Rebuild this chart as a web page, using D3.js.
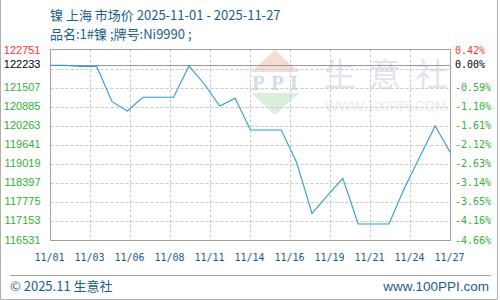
<!DOCTYPE html>
<html><head><meta charset="utf-8">
<script src="https://cdn.jsdelivr.net/npm/d3@7"></script>
<style>
html,body{margin:0;padding:0;background:#fff;}
svg{display:block;}
</style></head>
<body>
<svg id="chart" width="500" height="300"></svg>
<script>
// ---- data ----
const dates = ["11/01","11/02","11/03","11/04","11/05","11/06","11/07","11/08","11/09","11/10",
  "11/11","11/12","11/13","11/14","11/15","11/16","11/17","11/18","11/19","11/20",
  "11/21","11/22","11/23","11/24","11/25","11/26","11/27"];
const prices = [122233,122233,122200,122200,121051,120748,121194,121194,121194,122210,
  121627,120911,121162,120129,120129,120129,119071,117417,117990,118557,
  117068,117068,117068,118231,119250,120260,119390];
const xTickLabels = ["11/01","11/03","11/06","11/08","11/11","11/14","11/16","11/19","11/21","11/24","11/27"];
const yTicks = [116531,117153,117775,118397,119019,119641,120263,120885,121507,122129,122751];
const yTickLabelsLeft = ["116531","117153","117775","118397","119019","119641","120263","120885","121507","","122751"];
const yTickLabelsRight = ["-4.66%","-4.16%","-3.65%","-3.14%","-2.63%","-2.12%","-1.61%","-1.10%","-0.59%","","0.42%"];
const baseValue = 122233;
const baseLabelLeft = "122233";
const baseLabelRight = "0.00%";
const titleLine1 = "镍 上海 市场价 2025-11-01 - 2025-11-27";
const titleLine2 = "品名:1#镍 ;牌号:Ni9990 ;";
const footerLeft = "© 2025.11 生意社";
const footerRight = "www.100PPI.com";

// ---- layout ----
const L = 50.5, R = 450.5, T = 49.5, B = 240.5;
const svg = d3.select("#chart");
const blue = "#1b5d8e", green = "#33b033", red = "#ff3333";

// outer frame (left, right, bottom)
svg.append("path").attr("d","M0.5,0 V299.5 H497.5 V0").attr("fill","none").attr("stroke","#b0b0b0");

// titles
svg.append("text").attr("x",50).attr("y",19.5).attr("fill",blue)
  .attr("font-family","'Noto Sans CJK SC', sans-serif").attr("font-size",13).text(titleLine1);
svg.append("text").attr("x",50).attr("y",38.5).attr("fill",blue)
  .attr("font-family","'Noto Sans CJK SC', sans-serif").attr("font-size",13).text(titleLine2);

// scales
const x = d3.scaleLinear().domain([0, dates.length-1]).range([L, R]);
const y = d3.scaleLinear().domain([yTicks[0], yTicks[yTicks.length-1]]).range([B, T]);
const xt = d3.scalePoint().domain(xTickLabels).range([L, R]);
const snap = v => Math.round(v) + 0.5;

// watermark
const wm = svg.append("g");
wm.append("polygon").attr("points","275,50 251,72 299,72").attr("fill","#f7dcd6");
wm.append("text").attr("x",275).attr("y",90).attr("text-anchor","middle")
  .attr("font-family","'Liberation Serif', serif").attr("font-weight","bold").attr("font-size",21)
  .attr("textLength",46).attr("fill","#d4dcea").text("PPI");
wm.append("polygon").attr("points","251,93 299,93 275,115").attr("fill","#d9f1db");
["生","意","社"].forEach((c,i)=>{
  wm.append("text").attr("x",[340,385,431.5][i]).attr("y",86).attr("text-anchor","middle")
    .attr("font-family","'Noto Sans CJK SC', sans-serif").attr("font-size",32)
    .attr("fill","#dfe4ee").text(c);
});
wm.append("text").attr("x",325).attr("y",111).attr("textLength",122)
  .attr("font-family","'Liberation Sans', sans-serif").attr("font-size",14)
  .attr("fill","#ececec").text("WWW.100PPI.COM");

// horizontal grid
const g = svg.append("g");
g.selectAll("line.hg").data(yTicks.slice(1, -1)).join("line")
  .attr("x1",L).attr("x2",R).attr("y1",d=>snap(y(d))).attr("y2",d=>snap(y(d)))
  .attr("stroke","#c8c8c8").attr("stroke-dasharray","3,2");
// vertical grid
g.selectAll("line.vg").data(xTickLabels.slice(1, -1)).join("line")
  .attr("y1",T).attr("y2",B).attr("x1",d=>snap(xt(d)-0.5)).attr("x2",d=>snap(xt(d)-0.5))
  .attr("stroke","#c8c8c8").attr("stroke-dasharray","3,2");
// base line
g.append("line").attr("x1",L).attr("x2",R).attr("y1",snap(y(baseValue))).attr("y2",snap(y(baseValue)))
  .attr("stroke","#999");
// plot border
g.append("rect").attr("x",L).attr("y",T).attr("width",R-L).attr("height",B-T)
  .attr("fill","none").attr("stroke","#a0a0a0");

// line
svg.append("path").datum(prices)
  .attr("d", d3.line().x((d,i)=>x(i)).y(d=>y(d)))
  .attr("fill","none").attr("stroke","#3399dd").attr("stroke-width",1.1);

// y labels
const lab = svg.append("g");
yTicks.forEach((v,i)=>{
  const col = i === yTicks.length-1 ? red : green;
  const yy = i === yTicks.length-1 ? 53.5 : snap(y(v)) + 2.3;
  if (yTickLabelsLeft[i]) lab.append("text").attr("x",40.5).attr("y",yy).attr("text-anchor","end")
    .attr("font-family","'Liberation Sans', Arial, sans-serif").attr("font-size",11).attr("fill",col)
    .text(yTickLabelsLeft[i]);
  if (yTickLabelsRight[i]) lab.append("text").attr("x",455).attr("y",yy)
    .attr("font-family","'DejaVu Sans Mono', monospace").attr("font-size",10).attr("fill",col)
    .text(yTickLabelsRight[i]);
});
lab.append("text").attr("x",40.5).attr("y",snap(y(baseValue))+2.8).attr("text-anchor","end")
  .attr("font-family","'Liberation Sans', Arial, sans-serif").attr("font-size",11).attr("fill","#000")
  .text(baseLabelLeft);
lab.append("text").attr("x",455).attr("y",snap(y(baseValue))+2.8)
  .attr("font-family","'DejaVu Sans Mono', monospace").attr("font-size",10).attr("fill","#000")
  .text(baseLabelRight);

// x labels
lab.selectAll("text.xl").data(xTickLabels).join("text")
  .attr("x",d=>xt(d)-1).attr("y",260.7).attr("text-anchor","middle")
  .attr("font-family","'DejaVu Sans Mono', monospace").attr("font-size",10).attr("fill",blue)
  .text(d=>d);

// footer
svg.append("line").attr("x1",10).attr("x2",491).attr("y1",275.5).attr("y2",275.5).attr("stroke","#a0a0a0");
svg.append("text").attr("x",10).attr("y",291).attr("fill",blue)
  .attr("font-family","'Noto Sans CJK SC', sans-serif").attr("font-size",13).text(footerLeft);
svg.append("text").attr("x",489).attr("y",291).attr("text-anchor","end").attr("fill",blue)
  .attr("font-family","'Liberation Sans', Arial, sans-serif").attr("font-size",13.5).text(footerRight);
</script>
</body></html>
